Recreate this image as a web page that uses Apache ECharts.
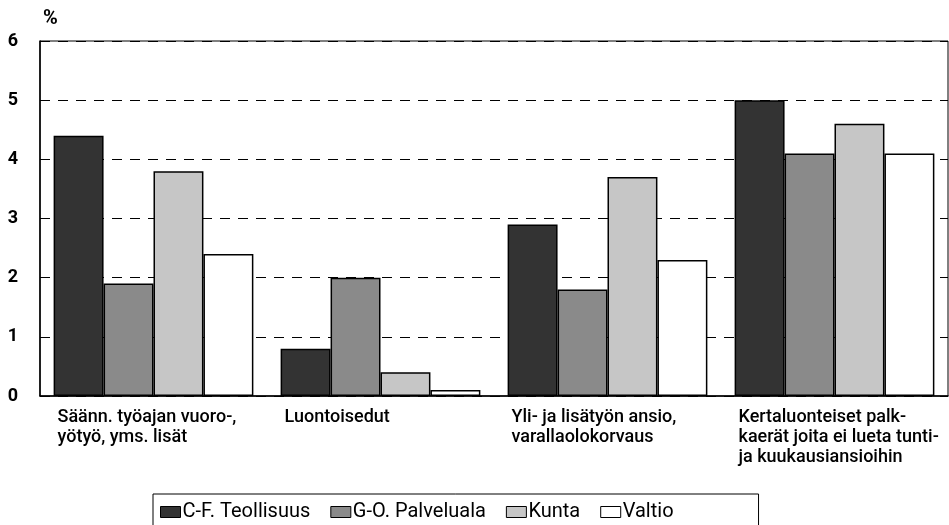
<!DOCTYPE html>
<html>
<head>
<meta charset="utf-8">
<script src="https://cdn.jsdelivr.net/npm/echarts@6/dist/echarts.min.js"></script>
<style>
  html, body { margin: 0; padding: 0; background: #fff; }
  #main { width: 949px; height: 525px; }
</style>
</head>
<body>
<div id="main"></div>
<script>
  // data
  var categories = [
    'Säänn. työajan vuoro-,\nyötyö, yms. lisät',
    'Luontoisedut',
    'Yli- ja lisätyön ansio,\nvarallaolokorvaus',
    'Kertaluonteiset palk-\nkaerät joita ei lueta tunti-\nja kuukausiansioihin'
  ];
  var seriesNames = ['C-F. Teollisuus', 'G-O. Palveluala', 'Kunta', 'Valtio'];
  var teollisuus = [4.4, 0.8, 2.9, 5.0];
  var palveluala = [1.9, 2.0, 1.8, 4.1];
  var kunta = [3.8, 0.4, 3.7, 4.6];
  var valtio = [2.4, 0.1, 2.3, 4.1];
  var colors = ['#333333', '#8a8a8a', '#c6c6c6', '#ffffff'];

  var font = 'Roboto, "Liberation Sans", sans-serif';
  var values = [teollisuus, palveluala, kunta, valtio];

  var chart = echarts.init(document.getElementById('main'));
  chart.setOption({
    animation: false,
    color: colors,
    grid: {
      left: 40, right: 1, top: 41, bottom: 129,
      outerBoundsMode: 'none',
      containLabel: false,
      show: true, borderColor: '#000', borderWidth: 1
    },
    legend: {
      data: seriesNames,
      left: 153, top: 494,
      padding: [8, 85, 12, 7],
      borderColor: '#000', borderWidth: 1,
      itemWidth: 20, itemHeight: 11, itemGap: 20,
      icon: 'rect',
      itemStyle: { borderColor: '#000', borderWidth: 1 },
      textStyle: { fontFamily: font, fontSize: 20, color: '#000', padding: [0, 0, 0, -3] }
    },
    xAxis: {
      type: 'category',
      data: categories,
      axisLine: { lineStyle: { color: '#000', width: 1.5 } },
      axisTick: { show: false },
      axisLabel: {
        interval: 0,
        align: 'left',
        verticalAlign: 'top',
        margin: 11,
        padding: [0, 0, 0, -96],
        lineHeight: 20,
        fontFamily: font, fontSize: 18, fontWeight: 500, color: '#000'
      }
    },
    yAxis: {
      type: 'value',
      min: 0, max: 6, interval: 1,
      name: '%',
      nameGap: 12,
      nameTextStyle: { fontFamily: font, fontSize: 20, fontWeight: 'bold', color: '#000', align: 'left', padding: [0, 0, 0, 3] },
      axisLine: { show: true, lineStyle: { color: '#000', width: 1.5 } },
      axisTick: { show: false },
      axisLabel: { margin: 22, fontFamily: font, fontSize: 18, fontWeight: 'bold', color: '#000' },
      splitLine: { lineStyle: { color: '#000', type: [10, 8], width: 1 } }
    },
    series: seriesNames.map(function (name, i) {
      return {
        name: name,
        type: 'bar',
        data: values[i],
        barGap: '0%',
        barCategoryGap: '12%',
        itemStyle: { borderColor: '#000', borderWidth: 1.5 }
      };
    })
  });
</script>
</body>
</html>
